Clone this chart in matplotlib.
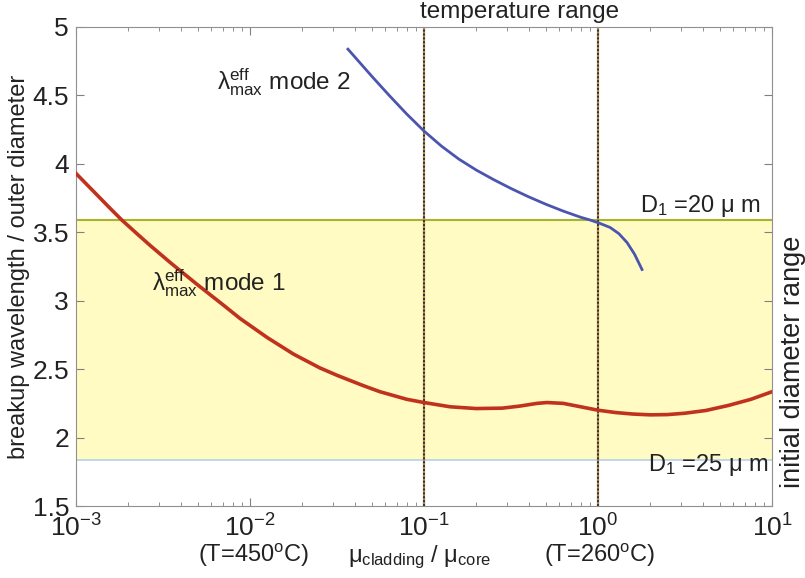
import matplotlib
matplotlib.use("Agg")
import matplotlib.pyplot as plt
import numpy as np

plt.rcParams['font.family'] = ['Liberation Sans', 'DejaVu Sans']
plt.rcParams['mathtext.fontset'] = 'custom'
plt.rcParams['mathtext.rm'] = 'Liberation Sans'
plt.rcParams['mathtext.it'] = 'Liberation Sans:italic'
plt.rcParams['mathtext.bf'] = 'Liberation Sans:bold'

# Data (log10 of viscosity ratio, breakup wavelength / outer diameter)
mode1_logx = [-3.0, -2.9, -2.8, -2.737, -2.65, -2.575, -2.45, -2.3, -2.15, -2.057, -1.9, -1.75,
              -1.6, -1.5, -1.35, -1.253, -1.1, -1.0, -0.85, -0.7, -0.55, -0.45, -0.35, -0.293,
              -0.2, -0.1, 0.0, 0.1, 0.2, 0.3, 0.4, 0.5, 0.62, 0.75, 0.88, 1.0]
mode1_y = [3.93, 3.80, 3.67, 3.59, 3.49, 3.405, 3.27, 3.115, 2.965, 2.87, 2.73, 2.61,
           2.51, 2.455, 2.38, 2.335, 2.28, 2.256, 2.225, 2.212, 2.215, 2.23, 2.25, 2.256,
           2.25, 2.225, 2.2, 2.183, 2.172, 2.166, 2.168, 2.178, 2.198, 2.235, 2.28, 2.335]

mode2_logx = [-1.437, -1.3, -1.2, -1.1, -1.0, -0.9, -0.8, -0.7, -0.6, -0.5, -0.4, -0.3,
              -0.2, -0.1, -0.046, 0.011, 0.07, 0.12, 0.167, 0.21, 0.253]
mode2_y = [4.838, 4.64, 4.50, 4.365, 4.24, 4.13, 4.035, 3.955, 3.885, 3.82, 3.76, 3.705,
           3.655, 3.61, 3.59, 3.565, 3.535, 3.49, 3.425, 3.34, 3.228]

band_low = 1.837    # D1 = 25 um
band_high = 3.592   # D1 = 20 um
temp_range = [0.1, 1.0]

xticks = [1e-3, 1e-2, 1e-1, 1e0, 1e1]
yticks = [1.5, 2, 2.5, 3, 3.5, 4, 4.5, 5]
ytick_labels = ['1.5', '2', '2.5', '3', '3.5', '4', '4.5', '5']

fig = plt.figure(figsize=(8.05, 5.78), dpi=100)
ax = fig.add_axes([76/805, (578-506)/578, (772-76)/805, (506-27)/578])

ax.set_xscale('log')
ax.set_xlim(1e-3, 10)
ax.set_ylim(1.5, 5)

ax.axhspan(band_low, band_high, color='#fffbc2', zorder=0, lw=0)
ax.axhline(band_high, color='#a7b52e', lw=1.5, zorder=1)
ax.axhline(band_low, color='#b4d2ec', lw=1.2, zorder=1)

for xv in temp_range:
    ax.axvline(xv, color='#b08a50', lw=1.6, zorder=2)
    ax.axvline(xv, color='#303030', lw=1.4, ls=(0, (1, 1)), zorder=2)

ax.plot(10**np.array(mode1_logx), mode1_y, color='#c0321e', lw=2.6, zorder=3,
        solid_joinstyle='round')
ax.plot(10**np.array(mode2_logx), mode2_y, color='#4b55b0', lw=2.0, zorder=3,
        solid_joinstyle='round')

ax.set_xticks(xticks)
ax.set_yticks(yticks)
ax.set_yticklabels(ytick_labels)
ax.tick_params(axis='both', which='both', direction='in', top=True, right=True,
               labelsize=19, colors='#808080', labelcolor='#222222')
ax.tick_params(axis='both', which='major', length=6)
ax.tick_params(axis='x', which='minor', length=3)
ax.tick_params(axis='x', which='major', pad=6)
ax.tick_params(axis='y', which='major', pad=5)
for s in ax.spines.values():
    s.set_color('#909090')

ax.set_ylabel('breakup wavelength / outer diameter', fontsize=17, color='#222222', labelpad=2)

tc = '#222222'
fig.text(520/805, 1 - 12/578, 'temperature range', ha='center', va='center', fontsize=17.5, color=tc)
fig.text(793/805, 1 - 362/578, 'initial diameter range', ha='center', va='center', rotation=90,
         fontsize=19.5, color=tc)
fig.text(254/805, 1 - 555/578, r'(T=450$^{\rm o}$C)', ha='center', va='center', fontsize=17, color=tc)
fig.text(600/805, 1 - 555/578, r'(T=260$^{\rm o}$C)', ha='center', va='center', fontsize=17, color=tc)
fig.text(420/805, 1 - 557/578, r'$\mathregular{μ_{cladding}}$ / $\mathregular{μ_{core}}$',
         ha='center', va='center', fontsize=17, color=tc)

fig.text(640/805, 1 - 206/578, r'D$_1$ =20 μ m', ha='left', va='center', fontsize=17, color=tc)
fig.text(648/805, 1 - 465/578, r'D$_1$ =25 μ m', ha='left', va='center', fontsize=17, color=tc)
fig.text(217/805, 1 - 82/578, r'$\mathregular{λ^{eff}_{max}}$ mode 2', ha='left', va='center',
         fontsize=17.5, color=tc)
fig.text(152/805, 1 - 283/578, r'$\mathregular{λ^{eff}_{max}}$ mode 1', ha='left', va='center',
         fontsize=17.5, color=tc)

fig.savefig('out.png', dpi=100)
